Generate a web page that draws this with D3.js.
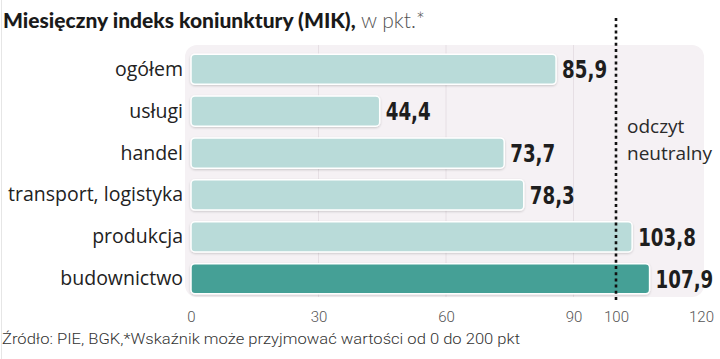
<!DOCTYPE html>
<html><head><meta charset="utf-8">
<script src="https://cdn.jsdelivr.net/npm/d3@7"></script>
<style>body{margin:0;background:#fff}svg{display:block}</style>
</head><body>
<svg id="c" width="720" height="359"></svg>
<script>
const categories = ["ogółem","usługi","handel","transport, logistyka","produkcja","budownictwo"];
const values = [85.9,44.4,73.7,78.3,103.8,107.9];
const valueLabels = ["85,9","44,4","73,7","78,3","103,8","107,9"];
const highlight = [false,false,false,false,false,true];
const tickValues = [0,30,60,90,100,120];
const gridValues = [30,60,90];
const neutral = 100;

const svg = d3.select("#c");
const x = d3.scaleLinear().domain([0,120]).range([191,701]);
const y = d3.scaleBand().domain(categories).range([50,298]).paddingInner(0.28).paddingOuter(0.1);

// left border line
svg.append("line").attr("x1",1.5).attr("x2",1.5).attr("y1",0).attr("y2",359).attr("stroke","#e6e6e6").attr("stroke-width",1);

// panel
svg.append("rect").attr("x",185).attr("y",45).attr("width",519).attr("height",252).attr("rx",12).attr("fill","#f5f1f4");

// grid
svg.selectAll(".grid").data(gridValues).join("line")
  .attr("x1",d=>x(d)).attr("x2",d=>x(d)).attr("y1",45).attr("y2",297)
  .attr("stroke","#e6dfe4").attr("stroke-width",1);

const defs = svg.append("defs");
const f = defs.append("filter").attr("id","sh").attr("x","-5%").attr("y","-30%").attr("width","110%").attr("height","160%");
f.append("feDropShadow").attr("dx",0).attr("dy",1).attr("stdDeviation",1.2).attr("flood-color","#000").attr("flood-opacity",0.18);

// bars
svg.selectAll(".bar").data(categories).join("rect")
  .attr("x",x(0)).attr("y",d=>y(d)).attr("height",y.bandwidth())
  .attr("width",(d,i)=>x(values[i])-x(0))
  .attr("rx",4).attr("fill",(d,i)=>highlight[i]?"#45a096":"#b9dbd9")
  .attr("stroke","#fff").attr("stroke-width",1.5).attr("filter","url(#sh)");

// dotted neutral line
svg.append("line").attr("x1",x(neutral)).attr("x2",x(neutral)).attr("y1",18).attr("y2",301)
  .attr("stroke","#111").attr("stroke-width",2.6).attr("stroke-dasharray","3,3.2");

// category labels
svg.selectAll(".cat").data(categories).join("text")
  .attr("x",183).attr("y",d=>y(d)+y.bandwidth()/2+6.5)
  .attr("text-anchor","end").attr("font-family","'Open Sans', sans-serif")
  .attr("font-size",19.5).attr("fill","#222").text(d=>d);

// value labels (condensed bold via horizontal scale)
svg.selectAll(".val").data(categories).join("text")
  .attr("transform",(d,i)=>`translate(${x(values[i])+6},${y(d)+y.bandwidth()/2+9}) scale(0.73,1)`)
  .attr("font-family","'DejaVu Sans', sans-serif")
  .attr("font-weight","bold").attr("font-size",25).attr("fill","#1e1e1e")
  .text((d,i)=>valueLabels[i]);

// neutral label
const nl = svg.append("text").attr("font-family","'Open Sans', sans-serif").attr("font-size",19).attr("fill","#2a2a2a");
nl.append("tspan").attr("x",627).attr("y",133).text("odczyt");
nl.append("tspan").attr("x",627).attr("y",160).text("neutralny");

// axis
const axis = d3.axisBottom(x).tickValues(tickValues).tickSize(0).tickPadding(0).tickFormat(d3.format("d"));
const ag = svg.append("g").attr("transform","translate(0,311)").call(axis);
ag.select(".domain").remove();
ag.selectAll("text").attr("font-family","Roboto, sans-serif").attr("font-weight",300)
  .attr("font-size",15).attr("fill","#555").attr("dy","0.71em");

// title
const t = svg.append("text").attr("x",3).attr("y",28).attr("font-family","Lato, sans-serif").attr("font-size",21);
t.append("tspan").attr("font-weight","900").attr("fill","#1a1a1a").text("Miesięczny indeks koniunktury (MIK),");
t.append("tspan").attr("font-weight","300").attr("fill","#555").text(" w pkt.*");

// footer
svg.append("text").attr("x",2).attr("y",344).attr("font-family","Roboto, sans-serif").attr("font-weight",300)
  .attr("font-size",15).attr("fill","#333").attr("textLength",518).attr("lengthAdjust","spacingAndGlyphs")
  .text("Źródło: PIE, BGK,*Wskaźnik może przyjmować wartości od 0 do 200 pkt");
</script>
</body></html>
